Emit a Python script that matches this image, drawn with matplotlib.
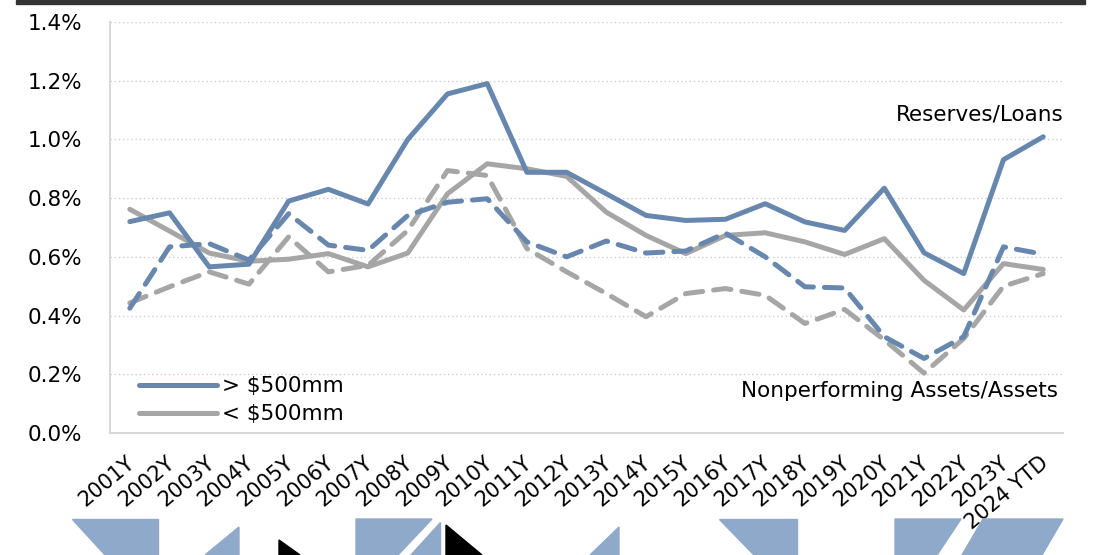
import matplotlib.pyplot as plt
from matplotlib.patches import Polygon, Rectangle
from matplotlib.transforms import ScaledTranslation

years = ['2001Y', '2002Y', '2003Y', '2004Y', '2005Y', '2006Y', '2007Y', '2008Y',
         '2009Y', '2010Y', '2011Y', '2012Y', '2013Y', '2014Y', '2015Y', '2016Y',
         '2017Y', '2018Y', '2019Y', '2020Y', '2021Y', '2022Y', '2023Y', '2024 YTD']

# Reserves / Loans (%)
reserves_large = [0.72, 0.75, 0.566, 0.575, 0.79, 0.83, 0.78, 1.00,
                  1.155, 1.19, 0.888, 0.888, 0.815, 0.741, 0.724, 0.728,
                  0.781, 0.719, 0.69, 0.834, 0.614, 0.543, 0.931, 1.009]
reserves_small = [0.762, 0.688, 0.613, 0.585, 0.592, 0.611, 0.566, 0.613,
                  0.815, 0.917, 0.90, 0.874, 0.752, 0.673, 0.611, 0.673,
                  0.682, 0.651, 0.608, 0.662, 0.52, 0.419, 0.577, 0.557]

# Nonperforming assets / assets (%)
npa_large = [0.425, 0.634, 0.645, 0.589, 0.747, 0.64, 0.622, 0.741,
             0.786, 0.798, 0.651, 0.60, 0.654, 0.613, 0.62, 0.681,
             0.60, 0.498, 0.494, 0.328, 0.254, 0.328, 0.634, 0.609]
npa_small = [0.443, 0.498, 0.549, 0.507, 0.668, 0.549, 0.571, 0.69,
             0.894, 0.877, 0.628, 0.549, 0.475, 0.396, 0.475, 0.492,
             0.469, 0.373, 0.421, 0.317, 0.204, 0.322, 0.50, 0.543]

blue = '#6787AE'
gray = '#A6A6A6'
font = 'DejaVu Sans'
fs = 15.5

fig = plt.figure(figsize=(10.94, 5.55), dpi=100)
ax = fig.add_axes([0.1005, 0.2198, 0.8712, 0.7406])

x = range(len(years))
lw = 3.6
ax.plot(x, reserves_large, color=blue, lw=lw, solid_capstyle='round', label='> $500mm', zorder=4)
ax.plot(x, reserves_small, color=gray, lw=lw, solid_capstyle='round', label='< $500mm', zorder=3)
ax.plot(x, npa_large, color=blue, lw=lw, ls=(0, (3.5, 2.2)), dash_capstyle='round', zorder=4)
ax.plot(x, npa_small, color=gray, lw=lw, ls=(0, (3.5, 2.2)), dash_capstyle='round', zorder=2)

ax.set_xlim(-0.5, len(years) - 0.5)
ax.set_ylim(0, 1.4)
ax.set_yticks([0, 0.2, 0.4, 0.6, 0.8, 1.0, 1.2, 1.4])
ax.set_yticklabels(['%.1f%%' % v for v in ax.get_yticks()], fontsize=fs, family=font)
ax.set_xticks(list(x))
ax.set_xticklabels(years, rotation=40, ha='right', rotation_mode='anchor', fontsize=15, family=font)
ax.tick_params(axis='both', length=0)
ax.tick_params(axis='y', pad=20)
ax.tick_params(axis='x', pad=14)
shift = ScaledTranslation(-4 / 100, 0, fig.dpi_scale_trans)
for lab in ax.get_xticklabels():
    lab.set_transform(lab.get_transform() + shift)

ax.grid(axis='y', color='#D0D0D0', ls=(0, (1, 2)), lw=1)
ax.set_axisbelow(True)
for s in ['top', 'right']:
    ax.spines[s].set_visible(False)
for s in ['left', 'bottom']:
    ax.spines[s].set_color('#D9D9D9')
    ax.spines[s].set_linewidth(1.5)

ax.legend(loc='upper left', bbox_to_anchor=(0.031, 0.138), frameon=False,
          prop={'family': font, 'size': fs}, handlelength=3.6, handletextpad=0.25,
          labelspacing=0.38, borderaxespad=0, borderpad=0)

ax.text(1.001, 0.776, 'Reserves/Loans', transform=ax.transAxes, ha='right', va='center',
        fontsize=fs, family=font)
ax.text(0.995, 0.102, 'Nonperforming Assets/Assets', transform=ax.transAxes, ha='right',
        va='center', fontsize=fs, family=font)

# dark bar at top
fig.patches.append(Rectangle((16 / 1094, 1 - 4 / 555), 1069 / 1094, 4 / 555,
                             transform=fig.transFigure, color='#333333'))

# cut-off logo shapes at the bottom edge
def px(pts):
    return [(a / 1094, 1 - b / 555) for a, b in pts]

logo = '#8EA9C9'
shapes = [
    (px([(72, 519), (158, 519), (158, 555), (105, 555)]), logo),
    (px([(205, 555), (239, 527), (239, 555)]), logo),
    (px([(279, 540), (300, 555), (279, 555)]), 'black'),
    (px([(356, 519), (432, 519), (398, 555), (356, 555)]), logo),
    (px([(440, 522), (440, 555), (410, 555)]), logo),
    (px([(446, 525), (482, 555), (446, 555)]), 'black'),
    (px([(590, 555), (619, 527), (619, 555)]), logo),
    (px([(719, 519), (797, 519), (797, 555), (754, 555)]), logo),
    (px([(895, 519), (961, 519), (937, 555), (895, 555)]), logo),
    (px([(983, 519), (1063, 519), (1042, 555), (962, 555)]), logo),
]
for pts, c in shapes:
    fig.patches.append(Polygon(pts, closed=True, transform=fig.transFigure, color=c))

fig.savefig('out.png', dpi=100)
